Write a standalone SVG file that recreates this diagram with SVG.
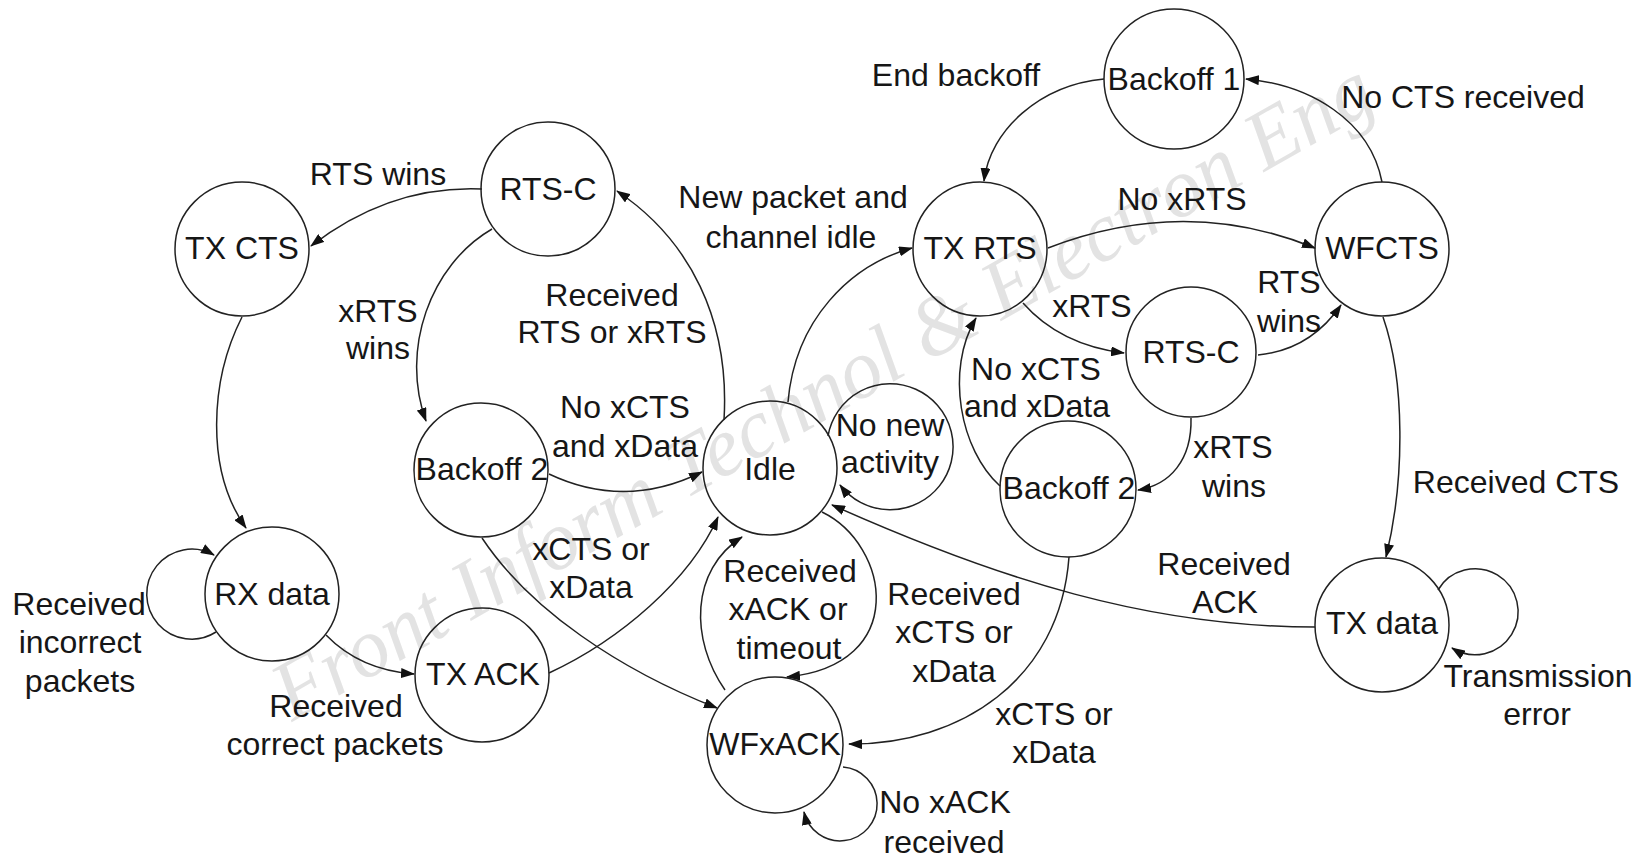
<svg xmlns="http://www.w3.org/2000/svg" width="1647" height="860" viewBox="0 0 1647 860">
<defs>
<marker id="arr" viewBox="0 0 14 10" refX="13" refY="5" markerWidth="14" markerHeight="10" markerUnits="userSpaceOnUse" orient="auto">
<path d="M0,0 L14,5 L0,10 z" fill="#111"/>
</marker>
<style>
.n circle{fill:none;stroke:#222;stroke-width:1.5}
text{font-family:"Liberation Sans",Arial,sans-serif;font-size:32px;fill:#161616;text-anchor:middle}
.c path{fill:none;stroke:#222;stroke-width:1.5;marker-end:url(#arr)}
.wm{font-family:"Liberation Serif","Times New Roman",serif;font-style:italic;font-size:84px;fill:#e3e3e3;text-anchor:start}
</style>
</defs>
<rect width="1647" height="860" fill="#fff"/>
<text class="wm" x="292" y="722" transform="rotate(-29.5 292 722)" textLength="1250" lengthAdjust="spacingAndGlyphs">Front Inform Technol &amp; Electron Eng</text>

<g id="connectors" class="c">
<path d="M482,189 Q390,185 311,246"/>
<path d="M492,229 C430,265 400,350 426,421"/>
<path d="M724,420 C730,320 690,240 617,191"/>
<path d="M549,474 Q625,510 702,472"/>
<path d="M482,538 C530,610 620,670 717,708"/>
<path d="M549,673 C620,640 690,580 718,517"/>
<path d="M242,317 C210,380 205,470 246,528"/>
<path d="M216,632 A45,45 0 1 1 214,555"/>
<path d="M326,635 Q360,670 414,674"/>
<path d="M788,402 C795,320 850,265 912,248"/>
<path d="M1104,79 C1040,85 990,130 984,181"/>
<path d="M1382,182 C1370,120 1310,85 1246,79"/>
<path d="M1048,248 Q1185,195 1315,248"/>
<path d="M1023,303 Q1060,345 1124,353"/>
<path d="M1258,355 Q1310,350 1341,305"/>
<path d="M1191,418 C1192,460 1170,485 1138,490"/>
<path d="M1000,486 C960,450 945,370 976,318"/>
<path d="M1383,317 C1405,380 1405,480 1386,557"/>
<path d="M1315,627 C1150,627 1000,580 832,505"/>
<path d="M828,436 A63,63 0 1 1 840,485"/>
<path d="M725,690 C690,640 690,570 742,537"/>
<path d="M822,512 C890,545 910,665 787,677"/>
<path d="M1069,557 C1060,680 960,745 849,744"/>
<path d="M843,767 A37,37 0 1 1 804,812"/>
<path d="M1438,590 A43,43 0 1 1 1452,648"/>
</g>

<g id="labels">
<text x="378" y="185">RTS wins</text>
<text x="378" y="322">xRTS</text>
<text x="378" y="359">wins</text>
<text x="612" y="306">Received</text>
<text x="612" y="343">RTS or xRTS</text>
<text x="793" y="208">New packet and</text>
<text x="791" y="248">channel idle</text>
<text x="625" y="418">No xCTS</text>
<text x="625" y="457">and xData</text>
<text x="890" y="436">No new</text>
<text x="890" y="473">activity</text>
<text x="591" y="560">xCTS or</text>
<text x="591" y="598">xData</text>
<text x="79" y="615">Received</text>
<text x="80" y="653">incorrect</text>
<text x="80" y="692">packets</text>
<text x="336" y="717">Received</text>
<text x="335" y="755">correct packets</text>
<text x="790" y="582">Received</text>
<text x="788" y="620">xACK or</text>
<text x="789" y="659">timeout</text>
<text x="954" y="605">Received</text>
<text x="954" y="643">xCTS or</text>
<text x="954" y="682">xData</text>
<text x="1054" y="725">xCTS or</text>
<text x="1054" y="763">xData</text>
<text x="945" y="813">No xACK</text>
<text x="944" y="853">received</text>
<text x="956" y="86">End backoff</text>
<text x="1463" y="108">No CTS received</text>
<text x="1182" y="210">No xRTS</text>
<text x="1092" y="317">xRTS</text>
<text x="1289" y="293">RTS</text>
<text x="1289" y="332">wins</text>
<text x="1036" y="380">No xCTS</text>
<text x="1037" y="417">and xData</text>
<text x="1233" y="458">xRTS</text>
<text x="1234" y="497">wins</text>
<text x="1516" y="493">Received CTS</text>
<text x="1224" y="575">Received</text>
<text x="1225" y="613">ACK</text>
<text x="1538" y="687">Transmission</text>
<text x="1537" y="725">error</text>
</g>

<g id="node-backoff1" class="n"><circle cx="1174" cy="79" r="70"/><text x="1174" y="90">Backoff 1</text></g>
<g id="node-txcts" class="n"><circle cx="242" cy="249" r="67"/><text x="242" y="259">TX CTS</text></g>
<g id="node-rtsc-left" class="n"><circle cx="548" cy="189" r="67"/><text x="548" y="200">RTS-C</text></g>
<g id="node-backoff2-left" class="n"><circle cx="481" cy="470" r="67"/><text x="482" y="480">Backoff 2</text></g>
<g id="node-rxdata" class="n"><circle cx="272" cy="594" r="67"/><text x="272" y="605">RX data</text></g>
<g id="node-txack" class="n"><circle cx="482" cy="675" r="67"/><text x="483" y="685">TX ACK</text></g>
<g id="node-idle" class="n"><circle cx="770" cy="468" r="67"/><text x="770" y="480">Idle</text></g>
<g id="node-wfxack" class="n"><circle cx="775" cy="745" r="68"/><text x="775" y="755">WFxACK</text></g>
<g id="node-txrts" class="n"><circle cx="980" cy="249" r="67"/><text x="980" y="259">TX RTS</text></g>
<g id="node-wfcts" class="n"><circle cx="1382" cy="249" r="67"/><text x="1382" y="259">WFCTS</text></g>
<g id="node-rtsc-right" class="n"><circle cx="1191" cy="352" r="65"/><text x="1191" y="363">RTS-C</text></g>
<g id="node-backoff2-right" class="n"><circle cx="1068" cy="489" r="68"/><text x="1069" y="499">Backoff 2</text></g>
<g id="node-txdata" class="n"><circle cx="1382" cy="625" r="67"/><text x="1382" y="634">TX data</text></g>
</svg>
